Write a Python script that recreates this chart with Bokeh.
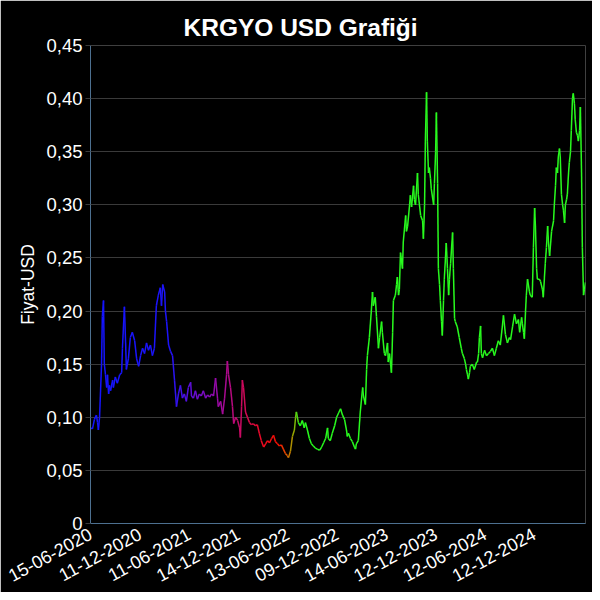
import numpy as np
from bokeh.plotting import figure
from bokeh.models import Range1d, FixedTicker, CustomJSTickFormatter
from bokeh.embed import file_html
from bokeh.resources import INLINE

# trading-day index since 15-06-2020
day = [
    0, 5, 10, 15, 18, 20, 23, 28, 30, 33,
    35, 38, 41, 43, 46, 48, 51, 56, 58, 63,
    68, 74, 79, 81, 86, 89, 91, 96, 101, 106,
    112, 117, 122, 127, 132, 137, 142, 147, 152, 157,
    162, 167, 172, 177, 180, 183, 188, 190, 193, 198,
    203, 208, 213, 218, 223, 228, 233, 238, 243, 248,
    254, 256, 261, 266, 271, 276, 281, 286, 292, 297,
    302, 307, 312, 317, 322, 324, 330, 335, 340, 345,
    347, 350, 355, 360, 363, 368, 373, 378, 380, 383,
    385, 388, 393, 398, 403, 408, 413, 418, 423, 428,
    433, 439, 444, 449, 454, 459, 464, 469, 474, 479,
    484, 489, 494, 499, 502, 507, 512, 517, 520, 522,
    527, 532, 537, 542, 545, 550, 555, 560, 565, 570,
    575, 581, 586, 591, 596, 601, 603, 608, 613, 619,
    624, 629, 634, 639, 644, 649, 651, 654, 659, 664,
    669, 672, 674, 679, 684, 690, 692, 697, 700, 702,
    707, 712, 715, 717, 722, 725, 730, 733, 738, 740,
    745, 748, 753, 755, 758, 763, 766, 768, 773, 776,
    778, 781, 783, 786, 791, 793, 799, 801, 804, 809,
    811, 814, 819, 821, 824, 829, 831, 837, 842, 844,
    847, 849, 852, 854, 857, 859, 862, 864, 870, 872,
    875, 877, 880, 882, 885, 887, 890, 892, 895, 897,
    902, 905, 908, 910, 913, 918, 920, 923, 925, 930,
    935, 940, 943, 948, 951, 953, 956, 958, 961, 963,
    968, 973, 979, 981, 984, 986, 989, 991, 994, 999,
    1004, 1009, 1014, 1019, 1024, 1029, 1034, 1039, 1044, 1047,
    1052, 1057, 1062, 1065, 1070, 1075, 1080, 1085, 1088, 1093,
    1095, 1098, 1100, 1103, 1105, 1108, 1113, 1115, 1120, 1123,
    1126, 1128, 1131, 1133, 1138, 1141, 1146, 1148, 1153, 1156,
    1159, 1161, 1164, 1169, 1174, 1176, 1179, 1181, 1184, 1186,
    1189, 1191, 1194, 1197, 1199, 1202, 1204, 1207, 1209, 1212,
    1214, 1217, 1219, 1222, 1224, 1227, 1229, 1232, 1235, 1237,
    1240, 1242, 1245, 1247, 1250, 1252, 1255,
]

price_usd = [
    .090, .089, .098, .102, .095, .088, .100, .150, .195, .210,
    .150, .140, .128, .140, .122, .130, .125, .135, .128, .138,
    .132, .140, .142, .165, .204, .170, .145, .155, .175, .180,
    .172, .155, .148, .158, .165, .160, .170, .163, .168, .158,
    .165, .205, .215, .222, .205, .225, .218, .200, .190, .168,
    .162, .158, .135, .110, .122, .130, .118, .122, .115, .128,
    .133, .120, .118, .125, .117, .122, .120, .125, .118, .121,
    .119, .122, .120, .137, .118, .110, .115, .103, .118, .140,
    .153, .140, .128, .110, .094, .100, .097, .090, .081, .110,
    .135, .128, .105, .100, .095, .093, .094, .092, .093, .085,
    .078, .072, .075, .078, .076, .080, .083, .077, .075, .073,
    .074, .070, .066, .064, .062, .068, .082, .088, .100, .105,
    .095, .092, .097, .090, .095, .088, .080, .075, .073, .071,
    .070, .069, .072, .076, .080, .090, .080, .078, .085, .092,
    .100, .104, .108, .102, .098, .088, .082, .085, .080, .077,
    .072, .070, .075, .078, .105, .128, .120, .112, .145, .158,
    .175, .200, .218, .205, .213, .195, .165, .175, .190, .180,
    .160, .158, .170, .152, .160, .142, .180, .210, .215, .225,
    .232, .215, .220, .255, .240, .265, .290, .275, .280, .300,
    .309, .298, .318, .305, .300, .330, .310, .290, .285, .268,
    .300, .360, .406, .360, .330, .335, .325, .315, .300, .320,
    .350, .387, .320, .240, .225, .210, .190, .177, .210, .230,
    .264, .240, .215, .230, .245, .274, .240, .193, .190, .185,
    .175, .165, .160, .155, .150, .145, .140, .136, .142, .148,
    .150, .145, .152, .152, .160, .175, .186, .160, .156, .163,
    .158, .160, .162, .165, .158, .165, .172, .168, .185, .196,
    .178, .170, .175, .173, .185, .197, .188, .192, .180, .194,
    .188, .180, .174, .200, .215, .230, .218, .215, .213, .260,
    .297, .280, .240, .230, .230, .228, .220, .213, .245, .260,
    .280, .265, .252, .275, .285, .300, .318, .335, .330, .345,
    .353, .345, .310, .300, .295, .283, .300, .305, .310, .330,
    .340, .350, .370, .400, .405, .395, .380, .368, .365, .360,
    .370, .392, .330, .260, .215, .220, .227,
]

tick_days = [0, 125, 250, 375, 500, 625, 750, 875, 1000, 1125]
tick_labels = ["15-06-2020", "11-12-2020", "11-06-2021", "14-12-2021", "13-06-2022",
               "09-12-2022", "14-06-2023", "12-12-2023", "12-06-2024", "12-12-2024"]
y_ticks = [0, 0.05, 0.10, 0.15, 0.20, 0.25, 0.30, 0.35, 0.40, 0.45]

# colour gradient along time (style)
stop_day = [0, 200, 260, 330, 380, 440, 480, 500, 515, 530, 2000]
stop_rgb = [(20, 20, 255), (30, 20, 250), (100, 15, 215), (160, 10, 160), (200, 10, 100),
            (240, 10, 30), (250, 20, 0), (220, 100, 0), (150, 170, 0), (40, 250, 30), (40, 250, 30)]

FONT = "Liberation Sans"

d = np.array(day, dtype=float)
v = np.array(price_usd, dtype=float)
mid = (d[:-1] + d[1:]) / 2
rgb = np.array(stop_rgb, dtype=float)
cols = []
for m in mid:
    r = np.interp(m, stop_day, rgb[:, 0])
    g = np.interp(m, stop_day, rgb[:, 1])
    b = np.interp(m, stop_day, rgb[:, 2])
    cols.append("#%02x%02x%02x" % (int(r), int(g), int(b)))

p = figure(width=592, height=592, output_backend="svg", toolbar_location=None,
           x_range=Range1d(0, day[-1]), y_range=Range1d(0, 0.45),
           background_fill_color="black", border_fill_color="black",
           outline_line_color=None,
           min_border_left=90, min_border_right=7, min_border_top=45, min_border_bottom=69)

p.title.text = "KRGYO USD Grafiği"
p.title.text_color = "white"
p.title.text_font = FONT
p.title.text_font_size = "24.5px"
p.title.text_font_style = "bold"
p.title.align = "left"
p.title.offset = 93

p.segment(x0=d[:-1], y0=v[:-1], x1=d[1:], y1=v[1:], line_color=cols, line_width=1.5)

p.xgrid.visible = False
p.ygrid.grid_line_color = "#3a3a3a"
p.ygrid.grid_line_width = 1

p.yaxis.ticker = FixedTicker(ticks=y_ticks)
p.yaxis.formatter = CustomJSTickFormatter(
    code="return Math.abs(tick) < 1e-9 ? '0' : tick.toFixed(2).replace('.', ',');")
p.xaxis.ticker = FixedTicker(ticks=tick_days)
p.xaxis.formatter = CustomJSTickFormatter(
    args=dict(tdays=tick_days, tlabels=tick_labels),
    code="const i = tdays.indexOf(Math.round(tick)); return i >= 0 ? tlabels[i] : '';")
p.xaxis.major_label_orientation = 0.5

p.yaxis.axis_label = "Fiyat-USD"
p.yaxis.axis_label_text_color = "white"
p.yaxis.axis_label_text_font = FONT
p.yaxis.axis_label_text_font_size = "17.5px"
p.yaxis.axis_label_text_font_style = "normal"
p.yaxis.axis_label_standoff = 5

for ax in (p.xaxis, p.yaxis):
    ax.axis_line_color = "#4d7090"
    ax.axis_line_width = 1
    ax.minor_tick_line_color = None
    ax.major_label_text_color = "white"
    ax.major_label_text_font = FONT
    ax.major_label_text_font_size = "18.5px"

p.xaxis.major_label_text_font_size = "18px"
p.xaxis.major_tick_line_color = None
p.xaxis.major_label_standoff = 3
p.yaxis.major_tick_line_color = "#3a3a3a"
p.yaxis.major_tick_in = 0
p.yaxis.major_tick_out = 5
p.yaxis.major_label_standoff = 3

open("out.html", "w").write(file_html(p, INLINE))
